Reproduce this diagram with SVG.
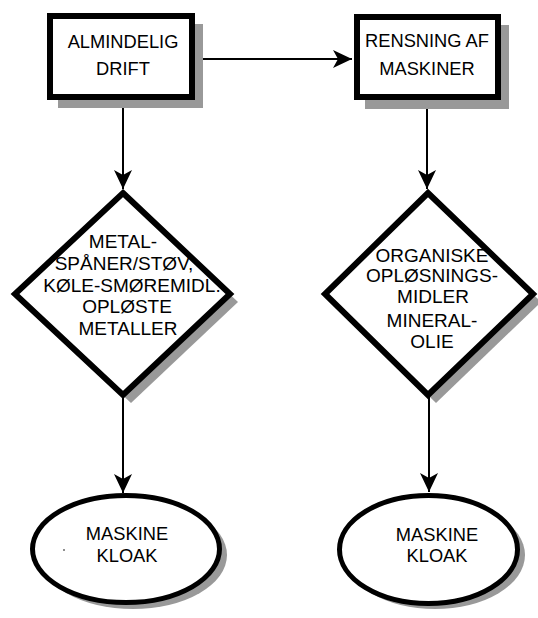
<svg xmlns="http://www.w3.org/2000/svg" width="538" height="618" viewBox="0 0 538 618">
<style>
.sh{fill:#999999;stroke:none}
.nd{fill:#ffffff;stroke:#000000;stroke-width:6}
.el{fill:#ffffff;stroke:#000000;stroke-width:5}
.t{font-family:"Liberation Sans",Arial,sans-serif;font-size:18.3px;fill:#000000;text-anchor:middle}
.d{font-size:19px}
.c{stroke:#000000;stroke-width:2;fill:none;marker-end:url(#ah)}
</style>
<defs>
<marker id="ah" markerUnits="userSpaceOnUse" markerWidth="20" markerHeight="18" refX="19" refY="9" orient="auto">
<path d="M0,0 L19,9 L0,18 L5,9 z" fill="#000000"/>
</marker>
</defs>
<rect width="538" height="618" fill="#ffffff"/>
<g id="connectors">
<line class="c" x1="195" y1="59" x2="352" y2="59"/>
<line class="c" x1="123" y1="97" x2="123" y2="189"/>
<line class="c" x1="427" y1="97" x2="427" y2="189"/>
<line class="c" x1="123" y1="397" x2="123" y2="493"/>
<line class="c" x1="429" y1="397" x2="429" y2="492"/>
</g>
<g id="box1">
<rect class="sh" x="58" y="24" width="145" height="84"/>
<rect class="nd" x="50" y="16" width="142" height="81"/>
<text class="t" x="123" y="48">ALMINDELIG</text>
<text class="t" x="123" y="75">DRIFT</text>
</g>
<g id="box2">
<rect class="sh" x="365" y="25" width="144" height="84"/>
<rect class="nd" x="357" y="17" width="141" height="80"/>
<text class="t" x="427" y="47">RENSNING AF</text>
<text class="t" x="427" y="75">MASKINER</text>
</g>
<g id="diamond1">
<polygon class="sh" points="131,201 238,302 131,403 23,302"/>
<polygon class="nd" points="123,193 230,294 123,395 15,294"/>
<text class="t d" x="123" y="248">METAL-</text>
<text class="t d" x="124" y="270">SPÅNER/STØV,</text>
<text class="t d" x="132" y="292">KØLE-SMØREMIDL.</text>
<text class="t d" x="127" y="313">OPLØSTE</text>
<text class="t d" x="128" y="335">METALLER</text>
</g>
<g id="diamond2">
<polygon class="sh" points="436,201 541,302 436,403 333,302"/>
<polygon class="nd" points="428,193 533,294 428,395 325,294"/>
<text class="t d" x="432" y="262">ORGANISKE</text>
<text class="t d" x="432" y="282">OPLØSNINGS-</text>
<text class="t d" x="433" y="303">MIDLER</text>
<text class="t d" x="432" y="327">MINERAL-</text>
<text class="t d" x="432" y="348">OLIE</text>
</g>
<g id="ellipse1">
<ellipse class="sh" cx="133" cy="555" rx="94" ry="54"/>
<ellipse class="el" cx="126" cy="549" rx="93.5" ry="53.5"/>
<text class="t" x="127" y="540">MASKINE</text>
<text class="t" x="127" y="562">KLOAK</text>
<circle cx="64" cy="550" r="0.8" fill="#000000"/>
</g>
<g id="ellipse2">
<ellipse class="sh" cx="435" cy="555" rx="90" ry="54"/>
<ellipse class="el" cx="428.5" cy="549.5" rx="89" ry="54"/>
<text class="t" x="437" y="541">MASKINE</text>
<text class="t" x="437" y="562">KLOAK</text>
</g>
</svg>
